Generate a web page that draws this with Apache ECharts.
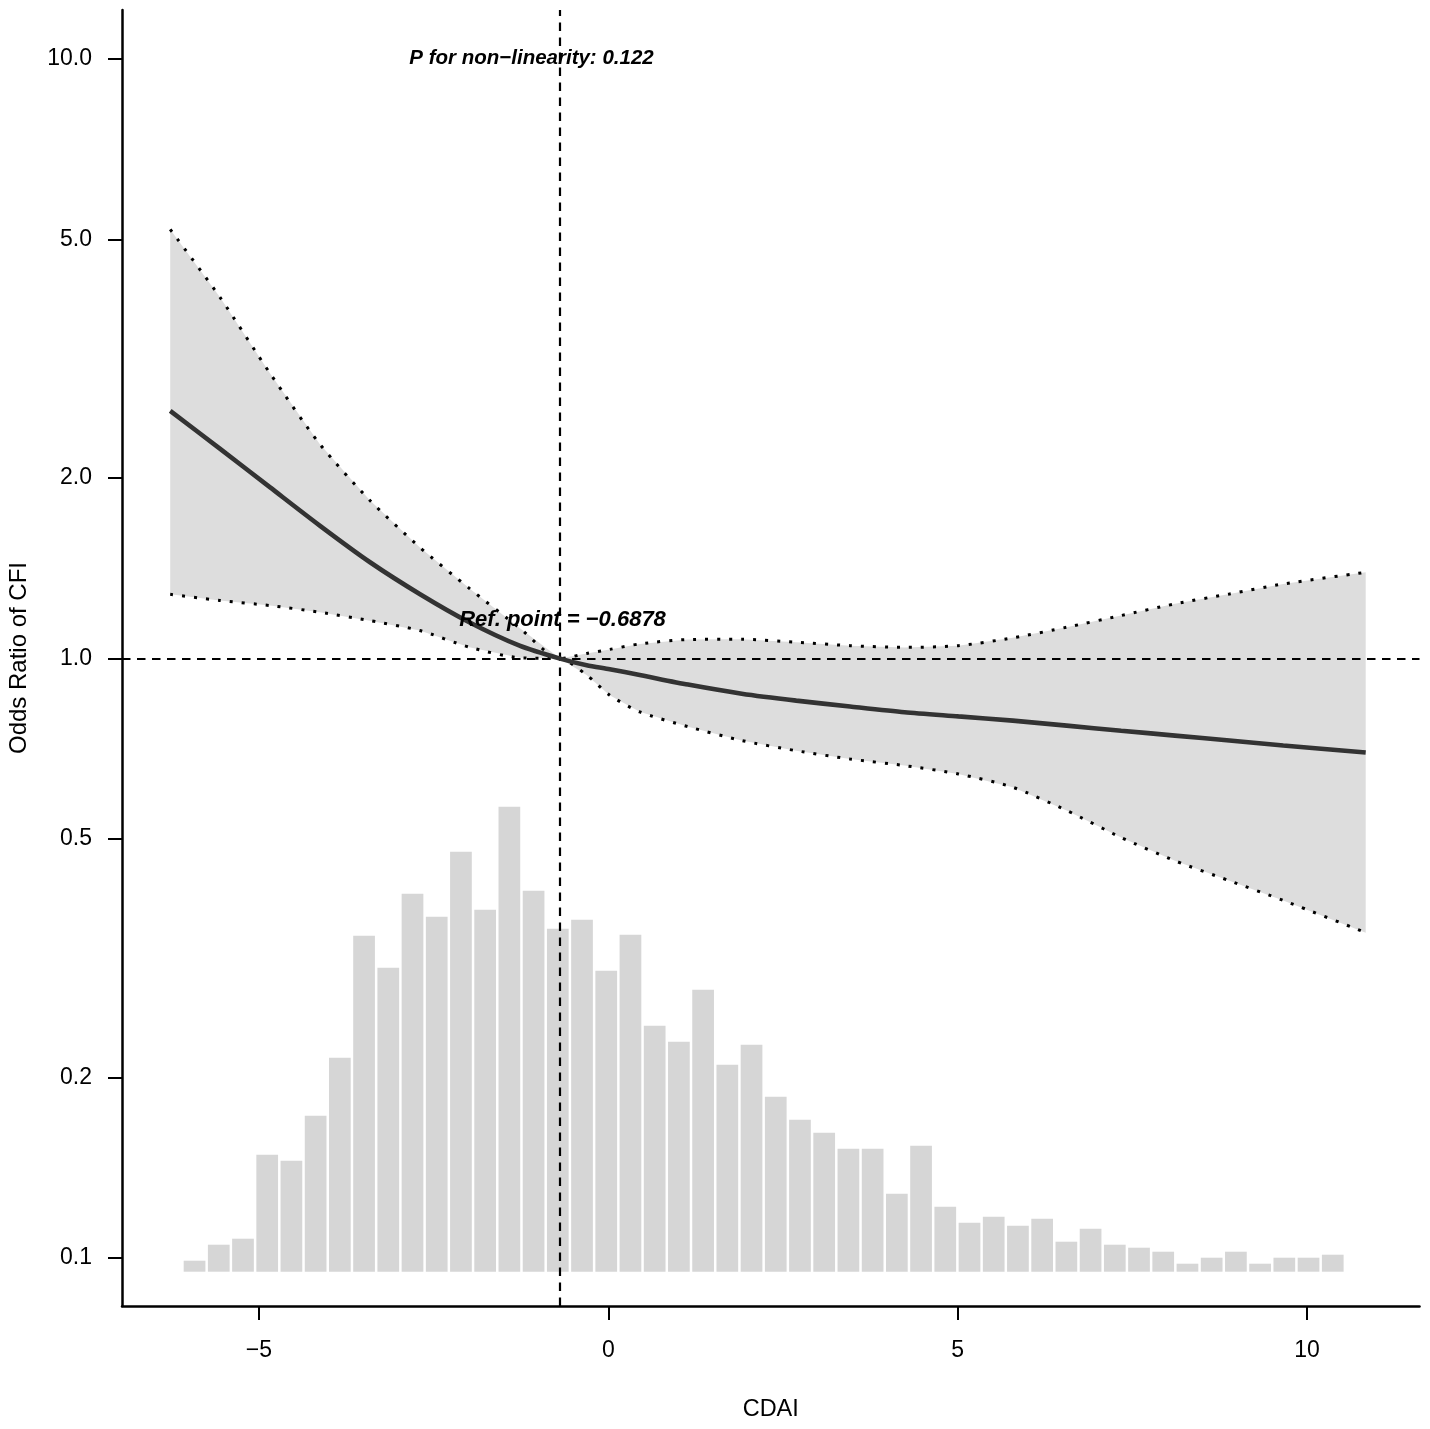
<!DOCTYPE html>
<html>
<head>
<meta charset="utf-8">
<script src="https://cdn.jsdelivr.net/npm/echarts@6/dist/echarts.min.js"></script>
<style>
    html, body {margin: 0; padding: 0; background: #fff;}
    #chart {width: 1430px; height: 1429px;}
</style>
</head>
<body>
<div id="chart"></div>
<script>
// restricted cubic spline: CDAI vs odds ratio of CFI
var cdai = [-6.27, -5.56, -4.84, -4.13, -3.41, -2.70, -1.99, -1.27, -0.69, -0.31, 0.02, 0.45, 1.14,
    1.91, 2.69, 3.46, 4.24, 5.01, 5.79, 6.56, 7.34, 8.11, 8.89, 9.66, 10.84];
var orFit = [2.59, 2.24, 1.93, 1.667, 1.448, 1.282, 1.150, 1.051, 1.000, 0.975, 0.960, 0.939, 0.905,
    0.874, 0.851, 0.832, 0.814, 0.801, 0.788, 0.773, 0.758, 0.744, 0.730, 0.716, 0.697];
var orLower = [1.28, 1.25, 1.226, 1.195, 1.157, 1.114, 1.045, 1.003, 1.000, 0.939, 0.869, 0.815, 0.770,
    0.730, 0.702, 0.680, 0.663, 0.642, 0.610, 0.558, 0.503, 0.460, 0.426, 0.395, 0.349];
var orUpper = [5.20, 4.01, 2.99, 2.28, 1.835, 1.534, 1.31, 1.125, 1.000, 1.020, 1.036, 1.058, 1.076,
    1.077, 1.065, 1.051, 1.044, 1.051, 1.083, 1.128, 1.180, 1.234, 1.282, 1.332, 1.393];
var refPoint = -0.6878;

// histogram of CDAI (48 bins)
var histStart = -6.095;
var histWidth = 0.3466;
var histCounts = [11, 27, 33, 117, 111, 156, 214, 336, 304, 378, 355, 420, 362, 465, 381, 343,
    352, 301, 337, 246, 230, 282, 207, 227, 175, 152, 139, 123, 123, 78, 126, 65,
    49, 55, 46, 53, 30, 43, 27, 24, 20, 8, 14, 20, 8, 14, 14, 17];

var xTicks = [-5, 0, 5, 10];
var yTicks = [0.1, 0.2, 0.5, 1, 2, 5, 10];

var FONT = 'Liberation Sans';

function lg(v) {
    return Math.log10(v);
}

var fitData = cdai.map(function (x, i) { return [x, lg(orFit[i])]; });
var lowData = cdai.map(function (x, i) { return [x, lg(orLower[i])]; });
var upData = cdai.map(function (x, i) { return [x, lg(orUpper[i])]; });
var histData = histCounts.map(function (c, i) {
    return [histStart + i * histWidth, histStart + (i + 1) * histWidth, c];
});

var myChart = echarts.init(document.getElementById('chart'));

var dotted = {color: '#000', width: 3, type: [3, 9]};

var option = {
    animation: false,
    backgroundColor: '#fff',
    grid: {left: 122, right: 10.5, top: 10, bottom: 123, containLabel: false, outerBoundsMode: 'none'},
    xAxis: [{
        type: 'value',
        min: -6.96,
        max: 11.61,
        name: 'CDAI',
        nameLocation: 'middle',
        nameGap: 92,
        nameTextStyle: {fontFamily: FONT, fontSize: 23.5, color: '#000'},
        axisLine: {onZero: false, lineStyle: {color: '#000', width: 2.5}},
        axisTick: {length: 14, lineStyle: {color: '#000', width: 2}, customValues: xTicks},
        axisLabel: {
            margin: 33, fontFamily: FONT, fontSize: 23, color: '#000', customValues: xTicks,
            formatter: function (v) { return v < 0 ? '\u2212' + Math.abs(v) : String(v); }
        },
        splitLine: {show: false}
    }],
    yAxis: [{
        type: 'value',
        min: -1.080,
        max: 1.082,
        name: 'Odds Ratio of CFI',
        nameLocation: 'middle',
        nameGap: 91,
        nameRotate: 90,
        nameTextStyle: {fontFamily: FONT, fontSize: 24, color: '#000'},
        axisLine: {onZero: false, lineStyle: {color: '#000', width: 2.5}},
        axisTick: {length: 14, lineStyle: {color: '#000', width: 2}, customValues: yTicks.map(lg)},
        axisLabel: {
            margin: 30, fontFamily: FONT, fontSize: 23, color: '#000', customValues: yTicks.map(lg),
            formatter: function (v) { return Math.pow(10, v).toFixed(1); }
        },
        splitLine: {show: false}
    }, {
        type: 'value',
        min: -34.3,
        max: 1261.7,
        show: false,
        splitLine: {show: false}
    }],
    series: [
        {
            name: 'hist',
            type: 'custom',
            xAxisIndex: 0,
            yAxisIndex: 1,
            silent: true,
            z: 1,
            encode: {x: [0, 1], y: 2},
            data: histData,
            renderItem: function (params, api) {
                var p0 = api.coord([api.value(0), 0]);
                var p1 = api.coord([api.value(1), api.value(2)]);
                return {
                    type: 'rect',
                    shape: {x: p0[0] + 1.25, y: p1[1], width: p1[0] - p0[0] - 2.5, height: p0[1] - p1[1]},
                    style: {fill: '#d6d6d6'}
                };
            }
        },
        {
            // confidence band: upper edge then lower edge backwards
            name: 'band',
            type: 'custom',
            silent: true,
            z: 2,
            data: [[cdai[0], 0]],
            renderItem: function (params, api) {
                var pts = [];
                for (var i = 0; i < cdai.length; i++) {
                    pts.push(api.coord(upData[i]));
                }
                for (var j = cdai.length - 1; j >= 0; j--) {
                    pts.push(api.coord(lowData[j]));
                }
                return {type: 'polygon', shape: {points: pts, smooth: 0}, style: {fill: '#dddddd'}};
            }
        },
        {
            name: 'lower',
            type: 'line',
            smooth: 0.25,
            showSymbol: false,
            silent: true,
            z: 3,
            data: lowData,
            lineStyle: dotted
        },
        {
            name: 'upper',
            type: 'line',
            smooth: 0.25,
            showSymbol: false,
            silent: true,
            z: 3,
            data: upData,
            lineStyle: dotted,
            markLine: {
                silent: true,
                symbol: ['none', 'none'],
                label: {show: false},
                lineStyle: {color: '#000', width: 2.2, type: [8.5, 6.5]},
                data: [{yAxis: 0}, {xAxis: refPoint}]
            }
        },
        {
            name: 'fit',
            type: 'line',
            smooth: 0.25,
            showSymbol: false,
            silent: true,
            z: 5,
            data: fitData,
            lineStyle: {color: '#333333', width: 4.6}
        },
        {
            name: 'notes',
            type: 'scatter',
            symbolSize: 0,
            silent: true,
            z: 10,
            itemStyle: {opacity: 1},
            label: {
                show: true, position: 'inside', color: '#000', fontFamily: FONT,
                fontWeight: 'bold', fontStyle: 'italic'
            },
            data: [
                {value: [-1.099, lg(10.04)], label: {color: '#000', fontSize: 20.5, formatter: 'P for non\u2212linearity: 0.122'}},
                {value: [-0.655, lg(1.159)], label: {color: '#000', fontSize: 22, formatter: 'Ref. point = \u22120.6878'}}
            ]
        }
    ]
};

myChart.setOption(option);
</script>
</body>
</html>
